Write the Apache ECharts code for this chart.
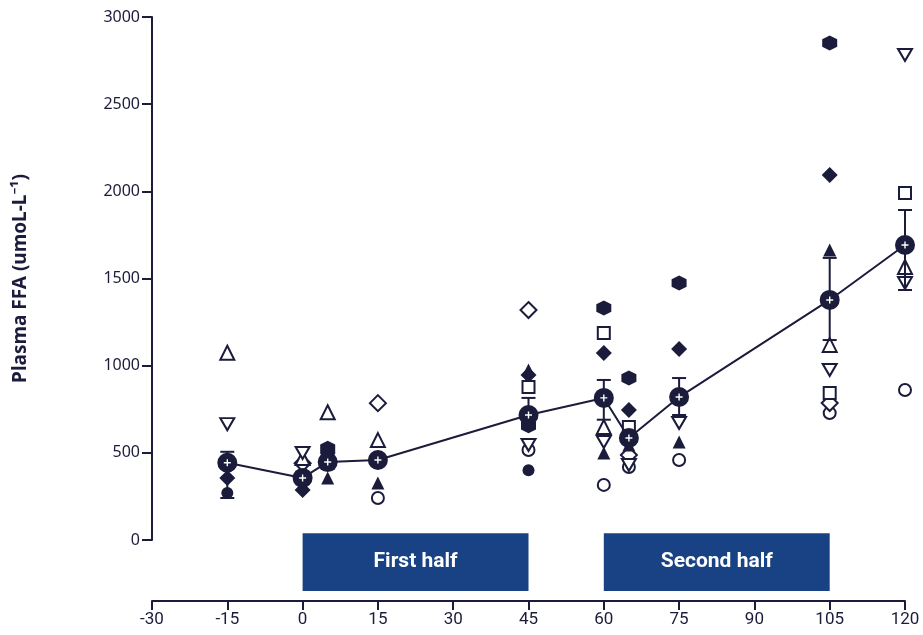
<!DOCTYPE html>
<html><head><meta charset="utf-8">
<script src="https://cdn.jsdelivr.net/npm/echarts@6/dist/echarts.min.js"></script>
<style>html,body{margin:0;padding:0;background:#fff}#c{width:923px;height:635px}</style>
</head><body><div id="c"></div>
<script>
const times = [-15, 0, 5, 15, 45, 60, 65, 75, 105, 120];
const xTicks = [-30, -15, 0, 15, 30, 45, 60, 75, 90, 105, 120];
const yTicks = [0, 500, 1000, 1500, 2000, 2500, 3000];
const meanFFA = [443, 356, 447, 459, 717, 815, 585, 820, 1377, 1692];
const errLow  = [241, 325, 410, 425, 645, 690, 550, 717, 1147, 1434];
const errHigh = [506, 385, 485, 490, 815, 918, 620, 929, 1618, 1893];

const filledCircle   = [270, null, null, null, 400, null, null, null, null, null];
const openCircle     = [null, null, null, 241, 516, 316, 419, 459, 728, 860];
const filledDiamond  = [355, 287, 499, null, 946, 1072, 746, 1096, 2094, null];
const openDiamond    = [null, 440, null, 785, 1319, null, 488, null, 786, null];
const filledTriangle = [null, null, 356, 327, 975, 499, 545, 562, 1664, null];
const openTriangle   = [1074, 470, 733, 573, null, 648, null, null, 1119, 1566];
const openInvTri     = [665, 499, null, null, 545, 562, 430, 671, 975, 2782];
const openInvTri2    = [null, null, null, null, null, null, null, null, null, 1474];
const openSquare     = [null, null, null, null, 878, 1187, 648, null, 843, 1990];
const filledHexagon  = [null, null, 527, null, 655, 1331, 929, 1474, 2851, null];

const phases = [
  {name: 'First half', start: 0, end: 45},
  {name: 'Second half', start: 60, end: 105}
];

const NAVY = '#1b1b3b';
const BOX = '#184284';
const INV_TRI = 'path://M0,0 L10,0 L5,8.66 Z';
const HEX = 'path://M5,0 L9.33,2.5 L9.33,7.5 L5,10 L0.67,7.5 L0.67,2.5 Z';
const PLUS = 'path://M4,0 L6,0 L6,4 L10,4 L10,6 L6,6 L6,10 L4,10 L4,6 L0,6 L0,4 L4,4 Z';

function pts(arr) { return times.map((t, i) => arr[i] == null ? null : [t, arr[i]]).filter(p => p); }
function subj(arr, symbol, size, filled) {
  return {
    type: 'scatter', xAxisIndex: 0, yAxisIndex: 0, data: pts(arr),
    symbol: symbol, symbolSize: size, z: 2,
    itemStyle: filled ? {color: NAVY, opacity: 1} : {color: '#fff', borderColor: NAVY, borderWidth: 2, opacity: 1},
    emphasis: {disabled: true}
  };
}

const chart = echarts.init(document.getElementById('c'), null, {renderer: 'canvas'});
chart.setOption({
  animation: false,
  grid: [
    {left: 152, right: 18, top: 17, bottom: 95},
    {left: 152, right: 18, top: 525, bottom: 34}
  ],
  xAxis: [
    {gridIndex: 0, type: 'value', min: -30, max: 120, show: false},
    {gridIndex: 1, type: 'value', min: -30, max: 120, interval: 15, position: 'bottom',
     axisLine: {show: true, onZero: false, lineStyle: {color: NAVY, width: 2}},
     axisTick: {show: true, length: 9, lineStyle: {color: NAVY, width: 2}},
     splitLine: {show: false},
     axisLabel: {color: NAVY, fontSize: 17, fontFamily: 'Liberation Sans Narrow, Roboto, sans-serif', margin: 10,
       formatter: v => xTicks.includes(v) ? String(v) : ''}}
  ],
  yAxis: [
    {gridIndex: 0, type: 'value', min: 0, max: 3000, interval: 500,
     name: 'Plasma FFA (umoL-L⁻¹)', nameLocation: 'middle', nameGap: 122, nameRotate: 90,
     nameTextStyle: {color: NAVY, fontSize: 19, fontWeight: 'bold', fontFamily: 'Noto Sans, sans-serif'},
     axisLine: {show: true, onZero: false, lineStyle: {color: NAVY, width: 2}},
     axisTick: {show: true, length: 10, lineStyle: {color: NAVY, width: 2}},
     splitLine: {show: false},
     axisLabel: {color: NAVY, fontSize: 16, fontFamily: 'Noto Sans, sans-serif', margin: 12,
       formatter: v => yTicks.includes(v) ? String(v) : ''}},
    {gridIndex: 1, type: 'value', min: 0, max: 1, show: false}
  ],
  series: [
    subj(filledCircle, 'circle', 12, true),
    subj(openCircle, 'circle', 12, false),
    subj(filledDiamond, 'diamond', 16, true),
    subj(openDiamond, 'diamond', 16, false),
    subj(filledTriangle, 'triangle', 13, true),
    subj(openTriangle, 'triangle', 14, false),
    subj(openInvTri, INV_TRI, [14, 12], false),
    subj(openInvTri2, INV_TRI, [14, 12], false),
    subj(openSquare, 'rect', 12, false),
    subj(filledHexagon, HEX, 15, true),
    {
      type: 'custom', xAxisIndex: 0, yAxisIndex: 0, z: 3,
      data: times.map((t, i) => [t, errLow[i], errHigh[i]]),
      renderItem: function (params, api) {
        const lo = api.coord([api.value(0), api.value(1)]);
        const hi = api.coord([api.value(0), api.value(2)]);
        const w = 7;
        const st = {stroke: NAVY, lineWidth: 2};
        return {type: 'group', children: [
          {type: 'line', shape: {x1: lo[0], y1: lo[1], x2: hi[0], y2: hi[1]}, style: st},
          {type: 'line', shape: {x1: hi[0] - w, y1: hi[1], x2: hi[0] + w, y2: hi[1]}, style: st},
          {type: 'line', shape: {x1: lo[0] - w, y1: lo[1], x2: lo[0] + w, y2: lo[1]}, style: st}
        ]};
      }
    },
    {
      type: 'line', xAxisIndex: 0, yAxisIndex: 0, z: 4, data: pts(meanFFA),
      symbol: 'circle', symbolSize: 20, showSymbol: true,
      lineStyle: {color: NAVY, width: 2}, itemStyle: {color: NAVY, opacity: 1}, emphasis: {disabled: true}
    },
    {
      type: 'scatter', xAxisIndex: 0, yAxisIndex: 0, z: 5, data: pts(meanFFA),
      symbol: PLUS, symbolSize: 7, itemStyle: {color: '#fff', opacity: 1}, emphasis: {disabled: true}
    },
    {
      type: 'scatter', xAxisIndex: 1, yAxisIndex: 1, data: [], z: 1,
      markArea: {
        silent: true,
        itemStyle: {color: BOX, opacity: 1},
        label: {show: true, position: 'inside', color: '#fff', fontSize: 21, fontWeight: 'bold',
          fontFamily: 'Liberation Sans Narrow, Roboto, sans-serif'},
        data: phases.map(p => [{name: p.name, xAxis: p.start, yAxis: 0.13}, {xAxis: p.end, yAxis: 0.89}])
      }
    }
  ]
});
</script></body></html>
